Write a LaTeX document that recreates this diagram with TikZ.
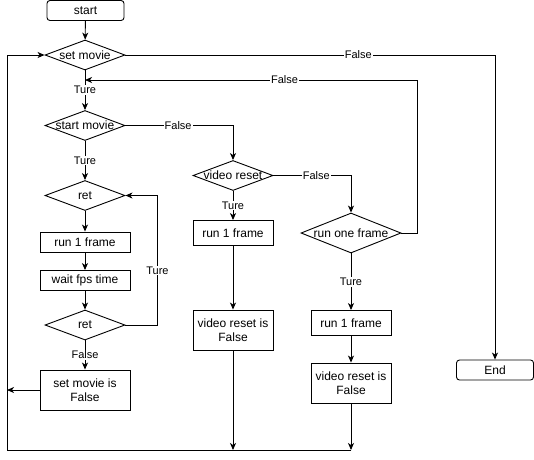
\documentclass[tikz,border=0pt]{standalone}
\usepackage{fontspec}
\setmainfont{Liberation Sans}
\usepackage{tikz}
\usetikzlibrary{arrows.meta, positioning, shapes.geometric}

% text of zero width, so a diamond keeps the size it is given
\newcommand{\dtxt}[1]{\makebox[0pt]{#1}}

\begin{document}
\begin{tikzpicture}[x=1pt, y=-1pt, line width=0.9pt,
		>={Stealth[length=7pt, width=6pt, inset=2pt]},
		font=\fontsize{12}{14}\selectfont,
		box/.style={draw, rectangle, inner sep=0pt, align=center, minimum width=90pt, minimum height=20pt},
		term/.style={box, rounded corners=3pt, minimum width=77pt},
		dec/.style={draw, diamond, inner sep=0pt, minimum width=80pt, minimum height=30pt},
		lbl/.style={fill=white, inner sep=1pt, font=\fontsize{11}{13}\selectfont}]
	\useasboundingbox (0,0) rectangle (534,459);
	% left column: the movie loop
	\node[term] (start) at (85.5,10.5) {start};
	\node[dec] (setm) at (85,55) {\dtxt{set movie}};
	\node[dec] (startm) at (85,125.5) {\dtxt{start movie}};
	\node[dec] (ret) at (85,195.5) {\dtxt{ret}};
	\node[box] (runA) at (85,242) {run 1 frame};
	\node[box] (wait) at (85,280.5) {wait fps time};
	\node[dec] (retB) at (85,325) {\dtxt{ret}};
	\node[box, minimum height=40pt] (setf) at (85,390) {set movie is\\False};
	% middle and right columns: reset and single frame
	\node[dec] (vreset) at (233,175.5) {\dtxt{video reset}};
	\node[box, minimum width=80pt, minimum height=25pt] (runB) at (233,233) {run 1 frame};
	\node[box, minimum width=80pt, minimum height=40pt] (vfB) at (233,330) {video reset is\\False};
	\node[dec, minimum width=100pt, minimum height=40pt] (runone) at (351,233) {\dtxt{run one frame}};
	\node[box, minimum width=80pt, minimum height=25pt] (runC) at (351,323) {run 1 frame};
	\node[box, minimum width=80pt, minimum height=40pt] (vfC) at (351,383) {video reset is\\False};
	\node[term] (end) at (495,370) {End};
	\coordinate (back) at (85,80);
	\coordinate (bl) at (7,450);

	\draw[->] (start) -- (setm);
	\draw[->] (setm) -- node[lbl] {Ture} (startm);
	\draw[->] (setm.east) -| node[lbl, pos=0.315] {False} (end.north);
	\draw[->] (startm) -- node[lbl] {Ture} (ret);
	\draw[->] (startm.east) -| node[lbl, pos=0.245] {False} (vreset.north);
	\draw[->] (ret) -- (runA);
	\draw[->] (runA) -- (wait);
	\draw[->] (wait) -- (retB);
	\draw[->] (retB.east) -- ++(32,0) |- node[lbl, pos=0.21] {Ture} (ret.east);
	\draw[->] (retB) -- node[lbl] {False} (setf);
	\draw[->] (setf.west) -- (setf -| bl);
	\draw[->] (vreset) -- node[lbl] {Ture} (runB);
	\draw[->] (vreset.east) -| node[lbl, pos=0.276] {False} (runone.north);
	\draw[->] (runB) -- (vfB);
	\draw[->] (runone.east) -- ++(16,0) |- node[lbl, pos=0.7] {False} (back);
	\draw[->] (runone) -- node[lbl] {Ture} (runC);
	\draw[->] (runC) -- (vfC);
	% both resets run down to the bottom line and back to set movie
	\draw[->] (vfB.south) -- (vfB |- bl);
	\draw[->] (vfC.south) -- (vfC |- bl);
	\draw[->] (vfC |- bl) -- (bl) |- (setm.west);
\end{tikzpicture}
\end{document}
